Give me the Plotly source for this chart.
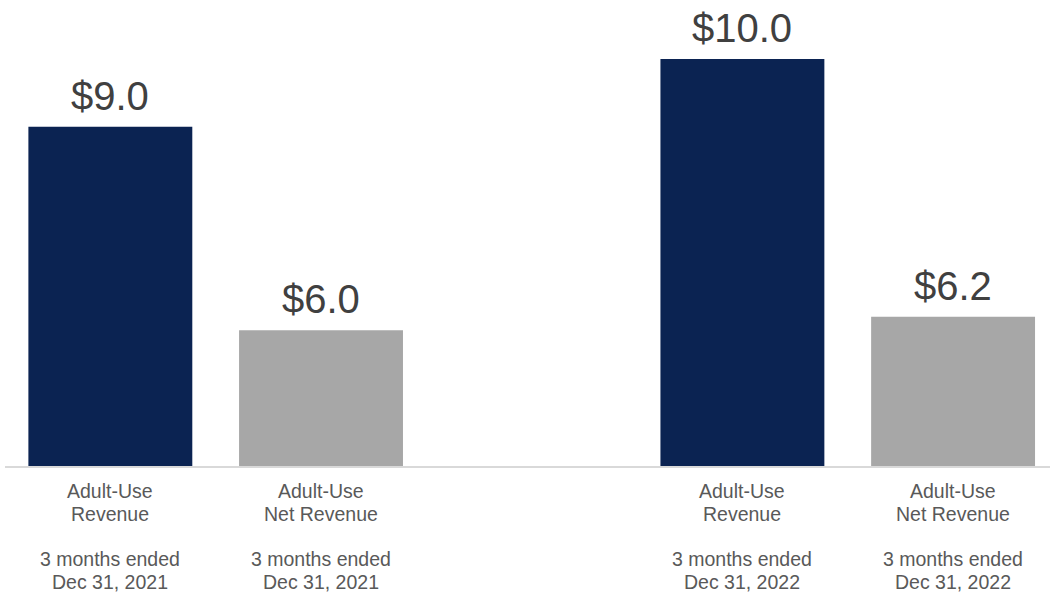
import plotly.graph_objects as go

# Revenue figures ($ millions) for each bar
positions = [0, 1, 3, 4]
values = [9.0, 6.0, 10.0, 6.2]
value_labels = ["$9.0", "$6.0", "$10.0", "$6.2"]
category_lines = [
    ["Adult-Use", "Revenue", "3 months ended", "Dec 31, 2021"],
    ["Adult-Use", "Net Revenue", "3 months ended", "Dec 31, 2021"],
    ["Adult-Use", "Revenue", "3 months ended", "Dec 31, 2022"],
    ["Adult-Use", "Net Revenue", "3 months ended", "Dec 31, 2022"],
]
bar_colors = ["#0B2352", "#A7A7A7", "#0B2352", "#A7A7A7"]

AXIS_BASE = 4
FONT = "Liberation Sans, Arial, sans-serif"

fig = go.Figure(
    go.Bar(
        x=positions,
        y=[v - AXIS_BASE for v in values],
        base=AXIS_BASE,
        width=0.778,
        marker=dict(color=bar_colors, line=dict(width=0)),
        hoverinfo="skip",
    )
)

# Value labels above the bars
for x, v, lbl in zip(positions, values, value_labels):
    fig.add_annotation(
        x=x, y=v, text=lbl, showarrow=False, yanchor="bottom", yshift=7,
        font=dict(family=FONT, size=40, color="#404040"),
    )

# Category captions below the axis line (pixel offsets below the baseline)
line_offsets = [25, 48, 93, 116]
for x, lines in zip(positions, category_lines):
    for off, txt in zip(line_offsets, lines):
        fig.add_annotation(
            x=x, y=0, yref="paper", text=txt, showarrow=False,
            yanchor="middle", yshift=-off,
            font=dict(family=FONT, size=19.5, color="#595959"),
        )

fig.update_layout(
    width=1050, height=594,
    margin=dict(l=5, r=0, t=0, b=128),
    paper_bgcolor="white", plot_bgcolor="white",
    showlegend=False,
    xaxis=dict(
        range=[-0.5, 4.46], tickvals=positions, showticklabels=False,
        showgrid=False, zeroline=False, showline=True,
        linecolor="#D9D9D9", linewidth=2, ticks="",
        fixedrange=True,
    ),
    yaxis=dict(range=[AXIS_BASE, 10.87], visible=False, fixedrange=True),
)

fig.write_html("out.html")
